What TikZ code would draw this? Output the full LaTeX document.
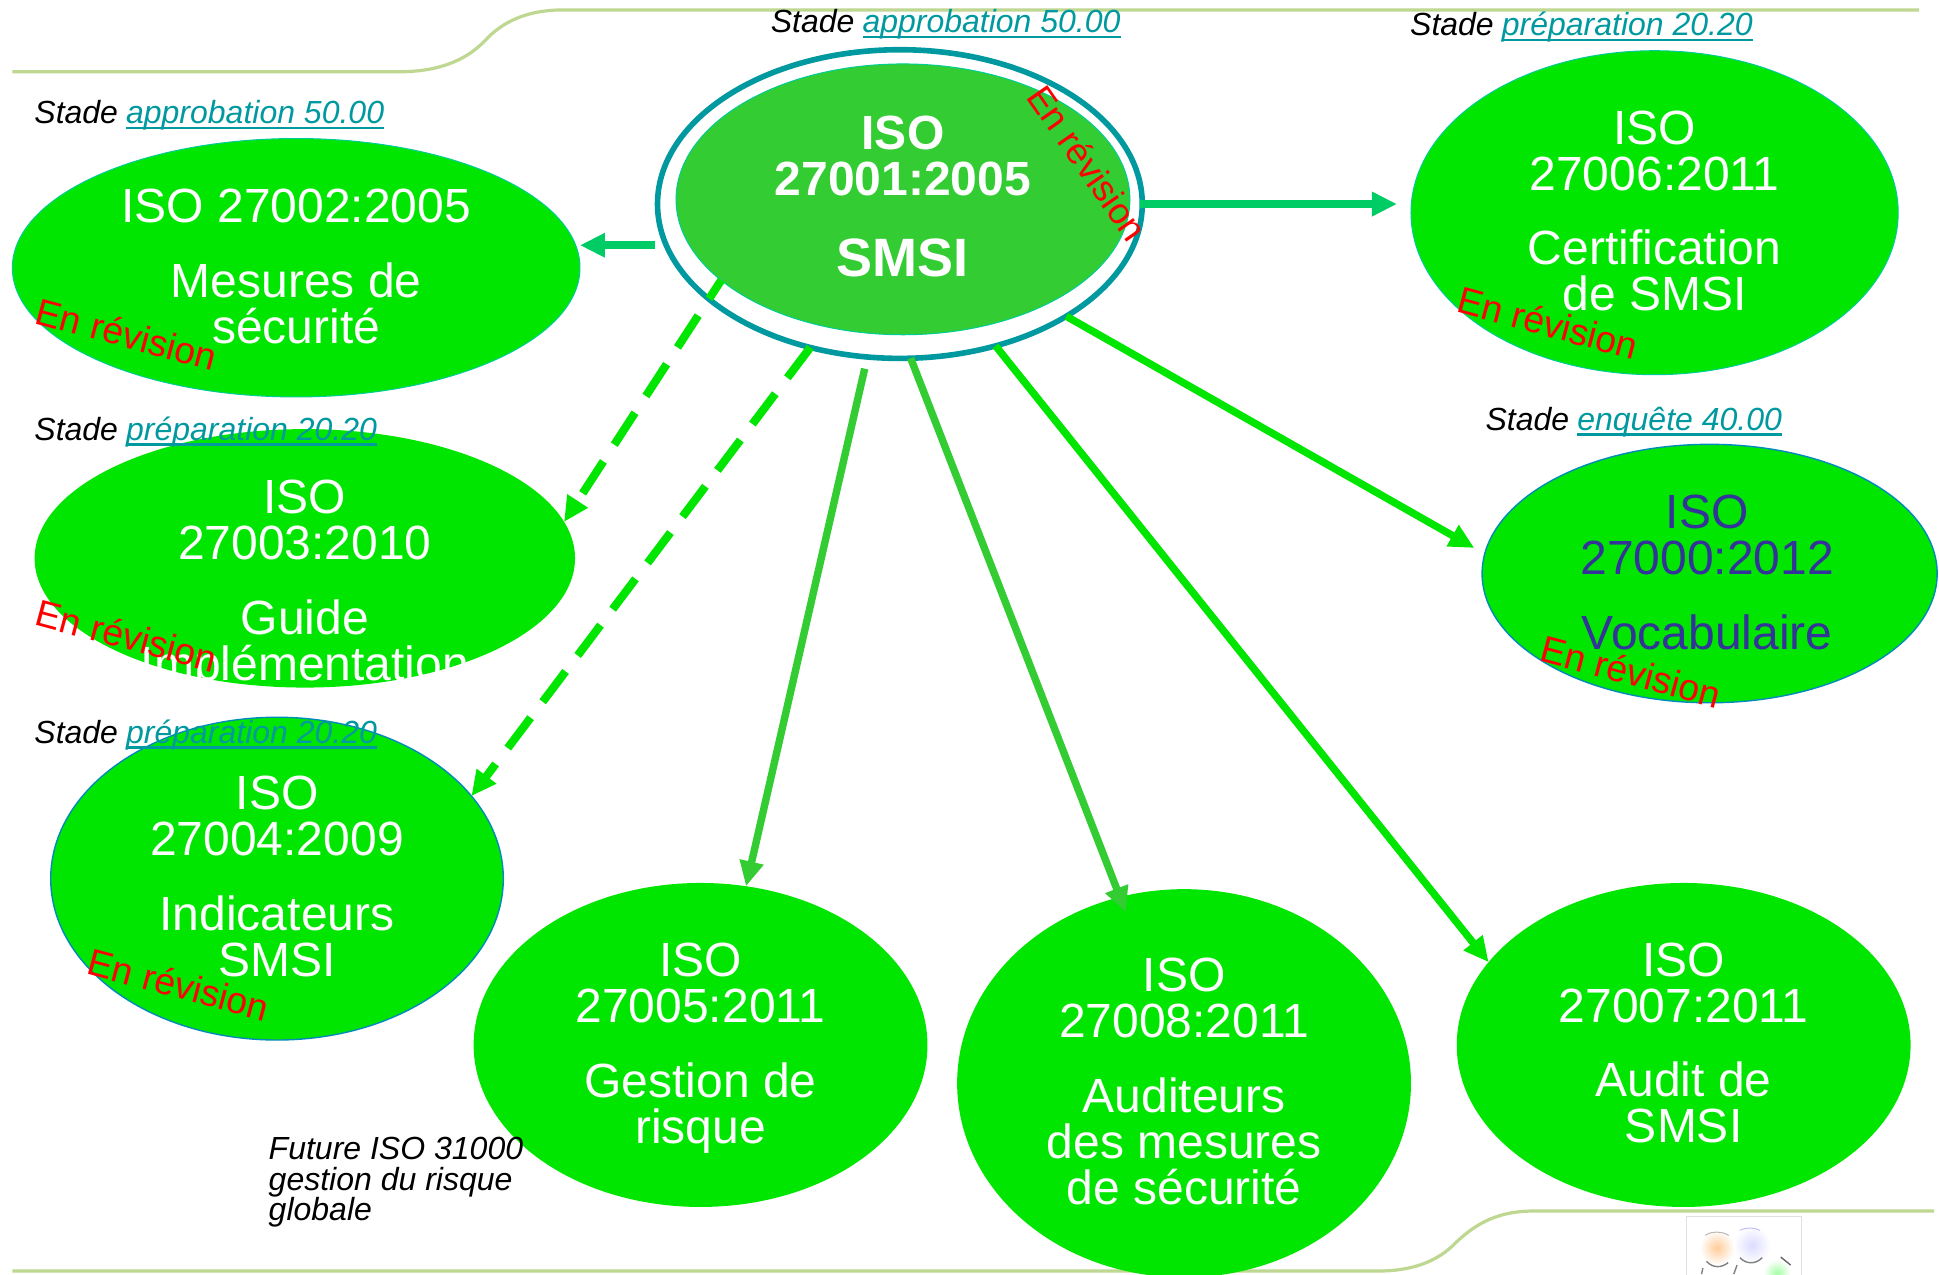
\documentclass[tikz,border=0pt]{standalone}
\usepackage{fontspec}
\setmainfont{Liberation Sans}
\usetikzlibrary{shapes.geometric,arrows.meta}
\definecolor{cgreen}{RGB}{0,230,0}
\definecolor{cinner}{RGB}{51,204,51}
\definecolor{cteal}{RGB}{0,153,160}
\definecolor{cmint}{RGB}{0,204,102}
\definecolor{cdark}{RGB}{51,51,153}
\definecolor{cblueline}{RGB}{0,140,185}
\definecolor{cfaint}{RGB}{0,205,150}
\definecolor{cdeco}{RGB}{190,215,145}
\def\uu{0.6183pt}
\newsavebox\lienbox
\newcommand\lien[1]{\hspace{-0.4pt}\sbox\lienbox{\color{cteal}#1}\usebox\lienbox\hspace{-\wd\lienbox}\textcolor{cteal}{\rule[-2.8pt]{\wd\lienbox}{1.3pt}}}
\tikzset{
  ellnode/.style 2 args={ellipse,fill=cgreen,draw=none,inner sep=0pt,outer sep=0pt,minimum width=#1*\uu,minimum height=#2*\uu},
  bodytext/.style={text=white,align=center,inner sep=0pt,font=\fontsize{24}{23}\selectfont},
  revtext/.style={text=red,inner sep=0pt,font=\fontsize{18.7}{20}\selectfont},
  stage/.style={anchor=base west,inner sep=0pt,font=\fontsize{16}{15.4}\selectfont\itshape},
  link/.style={line width=3.7pt,-{Triangle[length=12.5pt,width=11.5pt]}},
  dashlink/.style={link,line width=4.1pt,dash pattern=on 19pt off 10pt},
  deco/.style={draw=cdeco,line width=1.6pt},
}
\begin{document}
\begin{tikzpicture}[x=\uu,y=-\uu]
\useasboundingbox (0,0) rectangle (1568,1030.3);
\fill[white] (0,0) rectangle (1568,1030.3);
% decorative rules
\draw[deco] (10,58) -- (323.5,58) .. controls (352,58) and (376,50) .. (392,33) .. controls (406,18) and (425,8) .. (456,8) -- (1552,8);
\draw[deco] (10,1027.8) -- (1115,1027.8) .. controls (1140,1027.8) and (1160,1021) .. (1174,1008) .. controls (1190,992) and (1208,979.3) .. (1240,979.3) -- (1564,979.3);
% logo
\draw[draw=black!12,line width=0.6pt,fill=white] (1363.5,983.5) rectangle (1457,1032);
\shade[inner color=orange!40,outer color=white] (1388.5,1009) circle (14);
\shade[inner color=blue!14,outer color=white] (1416.8,1006.8) circle (15);
\shade[inner color=green!35,outer color=white] (1437,1029.4) circle (11);
\draw[black!28,line width=0.5pt] (1379,999) .. controls (1383,995.5) and (1393,995.5) .. (1398,999);
\draw[blue!25,line width=0.5pt] (1407,995) .. controls (1411,992.5) and (1419,992.5) .. (1423,995);
\draw[black!50,line width=0.7pt] (1380,1020) .. controls (1385,1025.5) and (1392,1025.5) .. (1397.5,1021);
\draw[black!50,line width=0.7pt] (1407,1017) .. controls (1412,1022.5) and (1420,1022.5) .. (1425,1017);
\draw[black!60,line width=0.7pt] (1440,1016.5) -- (1448,1023);
\draw[black!50,line width=0.7pt] (1376,1030.3) -- (1377,1025.4) (1402,1030.3) -- (1404.7,1023);
% nodes
\node[ellnode={459}{209},draw=cfaint,line width=0.5pt] (e2) at (239.5,216.5) {};
\node[ellnode={437}{209}] (e3) at (246.5,451.5) {};
\node[ellnode={366}{261},draw=cblueline,line width=0.7pt] (e4) at (224,710.5) {};
\node[ellnode={367}{262}] (e5) at (566.5,845) {};
\node[ellnode={367}{314}] (e8) at (957.5,876) {};
\node[ellnode={367}{262}] (e7) at (1361.5,845) {};
\node[ellnode={368}{209},draw=cblueline,line width=0.7pt] (e0) at (1382.5,463.8) {};
\node[ellnode={394}{262},draw=cfaint,line width=0.5pt] (e6) at (1338,172) {};
\node[ellipse,draw=cteal,fill=white,line width=2.8pt,inner sep=0pt,outer sep=0pt,minimum width=392*\uu,minimum height=249.6*\uu] (ring) at (727.7,165) {};
\node[ellnode={367}{219},fill=cinner,draw=cfaint,line width=0.5pt] (e1) at (730.2,161.2) {};
% connectors
\draw[link,cmint,line width=4pt,shorten <=5.7pt] (ring.190.6) -- (ring.190.6 -| e2.east);
\draw[link,cmint,line width=4pt,shorten <=-1pt,shorten >=7pt] (ring.0.25) -- (ring.0.25 -| e6.west);
\draw[dashlink,cgreen,dash phase=8pt] (e1.204.8) -- (e3.8.2);
\draw[dashlink,cgreen] (ring.238.2) -- (e4.23.8);
\draw[link,cinner,shorten <=6pt] (ring.258.4) -- (e5.74);
\draw[link,cinner,shorten >=-8pt] (ring.274.8) -- (e8.109.7);
\draw[link,cgreen] (ring.304.3) -- (e7.157.2);
\draw[link,cgreen,shorten >=6pt] (ring.326.7) -- (e0.175.2);
% ellipse texts
\node[bodytext,yshift=1.5pt,font=\fontsize{24}{23}\selectfont\bfseries] (t1) at (e1) {ISO\\27001:2005\\[17.4pt]{\fontsize{27}{23}\selectfont SMSI}};
\node[bodytext,yshift=0.6pt] (t2) at (e2) {ISO 27002:2005\\[14.6pt]Mesures de\\sécurité};
\node[bodytext,yshift=-10.2pt] (t3) at (e3) {\mbox{}\\ISO\\27003:2010\\[14.4pt]Guide\\Implémentation};
\node[bodytext,yshift=1.1pt] (t4) at (e4) {ISO\\27004:2009\\[14.6pt]Indicateurs\\SMSI};
\node[bodytext,yshift=-1.6pt] (t5) at (e5) {ISO\\27005:2011\\[14.4pt]Gestion de\\risque};
\node[bodytext,yshift=0.9pt] (t8) at (e8) {ISO\\27008:2011\\[14.4pt]Auditeurs\\des mesures\\de sécurité};
\node[bodytext,yshift=0.9pt] (t7) at (e7) {ISO\\27007:2011\\[14pt]Audit de\\SMSI};
\node[bodytext,text=cdark,xshift=-1.2pt,yshift=0.4pt] (t0) at (e0) {ISO\\27000:2012\\[14.4pt]Vocabulaire};
\node[bodytext,yshift=0.9pt] (t6) at (e6) {ISO\\27006:2011\\[14.4pt]Certification\\de SMSI};
% stage labels
\node[stage] (s1) at (623,26.5) {Stade \lien{approbation 50.00}};
\node[stage] (s6) at (1140,29) {Stade \lien{préparation 20.20}};
\node[stage] (s2) at (27.5,100) {Stade \lien{approbation 50.00}};
\node[stage] (s3) at (27.5,356) {Stade \lien{préparation 20.20}};
\node[stage] (s4) at (27.5,601) {Stade \lien{préparation 20.20}};
\node[stage] (s0) at (1201,348) {Stade \lien{enquête 40.00}};
\node[stage,anchor=north west,align=left] (fut) at (217,919) {Future ISO 31000\\gestion du risque\\globale};
% revision marks
\node[revtext,rotate=-55,font=\fontsize{18.2}{20}\selectfont] (r1) at (879.6,132) {En révision};
\node[revtext,rotate=-15] (r2) at (102.5,270) {En révision};
\node[revtext,rotate=-15] (r3) at (102.5,514) {En révision};
\node[revtext,rotate=-15] (r4) at (144.5,796) {En révision};
\node[revtext,rotate=-15] (r6) at (1252,261) {En révision};
\node[revtext,rotate=-15] (r0) at (1319,543) {En révision};
\end{tikzpicture}
\end{document}
